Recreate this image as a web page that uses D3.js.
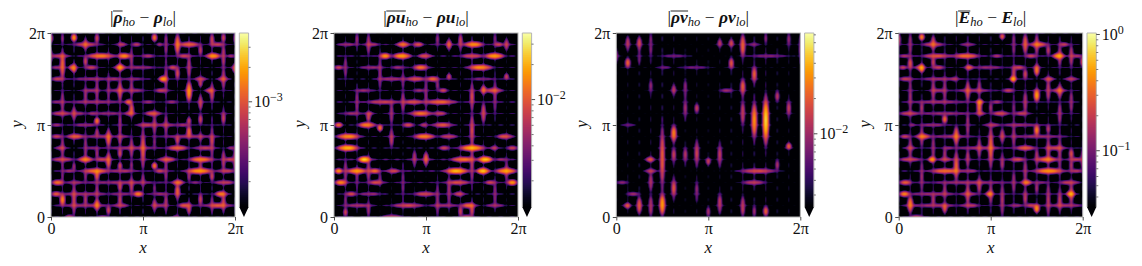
<!DOCTYPE html>
<html lang="en">
<head>
<meta charset="utf-8">
<title>Filtered high order vs low order difference</title>
<script src="https://d3js.org/d3.v7.min.js"></script>
<style>
  html, body { margin: 0; padding: 0; background: #fff; }
  svg { display: block; }
  text { font-family: "Liberation Serif", "DejaVu Serif", serif; fill: #111; }
  .math { font-style: italic; }
  .field { filter: blur(0.45px); }
</style>
</head>
<body>
<div id="chart"></div>
<script>
// Jumps read off the picture along the 16 x 16 element grid.
// Each entry: [grid line, from, to, peak], lengths in element widths, peak in units of the panel.
var rhoH = [
  [15,1.9,4.2,7],[15,5.7,6.55,7],[15,7,7.85,6],[15,9.2,9.7,4],[15,11,13,12],[15,13.9,15.1,7],
  [14,0,1.5,6],[14,3,5.7,16],[14,5.7,7,18],[14,7.85,9,5],[14,11,12.2,7],[14,13.4,14.8,20],[14,15.4,16,4],
  [13,0,0.9,4],[13,1.5,2,7],[13,2.9,4.1,7],[13,5.5,6.5,14],[13,6.5,9,4],[13,10.2,11,8],
  [12,0,1.2,7],[12,2,5,4],[12,5,6.1,4],[12,6.4,8.1,3],[12,9.3,10.2,20],[12,12.5,13.5,8],[12,14.5,15.4,7],
  [11,2.9,4.1,4],[11,5,7,4],[11,7,8.1,4],[11,9,10.2,7],[11,13.4,14.2,8],
  [10,0,0.9,3],[10,1.5,6,4],[10,6.4,7.1,12],[10,7.9,9,4],[10,10,11,4],
  [9,0,1.8,7],[9,2,3,4],[9,3.2,4.1,4],[9,4,6,4],[9,6.4,7.3,7],[9,8.1,9.6,10],
  [8,0,1,4],[8,2,4,4],[8,7.5,9,7],[8,9,11,4],[8,11,12,4],
  [7,0,1,7],[7,1.3,2.9,12],[7,3,5.5,4],[7,5.8,6.7,3],[7,10,14,4],
  [6,0.4,1.3,5],[6,3.2,4.1,3],[6,5,9,4],[6,10,12,12],[6,12.5,14.2,7],[6,15.4,16,4],
  [5,0,2,7],[5,2.3,3.7,16],[5,3.8,5,7],[5,9.3,10.9,10],[5,11.9,14.2,16],[5,15.1,16,7],
  [4,1.2,2,4],[4,2.6,5.2,14],[4,5.2,7.3,5],[4,9,9.9,7],[4,11.6,14.2,20],[4,14.5,16,7],
  [3,0,1.2,14],[3,1.5,2.6,4],[3,3,9,4],[3,10.5,11.6,14],[3,12.2,13,3],[3,14.2,16,7],
  [2,0,0.9,10],[2,1,5,4],[2,5.5,7,3],[2,7.1,8.1,16],[2,8.7,10.2,4],[2,14.2,15.4,16],
  [1,1,5,4],[1,5.5,6.7,6],[1,9,10,4],[1,11,12.2,10],[1,13,16,4],[1,13.9,15.1,7],
  [0,1.2,2,7],[0,4,5,4],[0,10.6,11.2,5]
];
var rhoV = [
  [0,15.1,16,7],[0,13.5,14.5,4],
  [1,11.9,14.5,12],[1,15.1,16,3],[1,9,11,4],[1,5,7,4],[1,3.2,4.7,3],[1,0.9,2.1,16],
  [2,15.2,16,18],[2,12.5,13.4,16],[2,8.4,9.6,7],[2,0.2,2.9,7],[2,4,4.7,4],
  [3,14.5,15.5,7],[3,13.1,14,7],[3,9.9,11.3,4],[3,5,7,4],[3,3.1,4,3],[3,1,2,5],
  [4,15.1,16,7],[4,10,12,4],[4,8,8.7,14],[4,7,7.7,5],[4,5.1,6,4],[4,3.1,4.2,10],[4,1.5,3,4],[4,0.5,1.6,14],
  [5,10.2,12,3],[5,6,7.7,12],[5,4.1,5.7,12],[5,0.2,1,7],
  [6,12.6,13.4,7],[6,10,11.9,8],[6,7,9,4],[6,6.3,7.1,4],[6,5.1,6,7],[6,4.1,4.8,7],[6,2.2,3.1,7],[6,1,2,6],
  [7,13,14.5,4],[7,10.5,12,4],[7,8.7,10,10],[7,5,7,5],[7,4.1,4.8,3],[7,2,3.5,6],
  [8,4.1,7.7,10],[8,2.6,3.7,4],
  [9,15.2,16,14],[9,7,9,5],[9,6,6.9,3],[9,4.1,4.8,14],[9,2.2,2.8,3],[9,0.5,1.6,7],
  [10,14,16,4],[10,11,13.4,4],[10,7,9,4],[10,3,5,4],[10,0.5,2,5],
  [11,14,16,14],[11,11.9,13.1,8],[11,6.3,7.1,7],[11,1.5,2.9,12],
  [12,12,14,6],[12,9.9,11.9,20],[12,8,8.7,7],[12,6.8,8,12],[12,3.1,4,4],[12,0.2,1.3,7],
  [13,14,15,6],[13,11.3,11.9,6],[13,9.3,10.6,8],[13,8,9,7],[13,6.6,7.3,4],[13,4.1,4.8,4],[13,1,2.1,7],
  [14,14.8,16,7],[14,9.9,11.6,7],[14,6.3,7.1,4],[14,5,8,4],[14,3.1,4,7],[14,0.5,1.8,3],
  [15,15.2,16,7],[15,13,15,6],[15,11,13,5],[15,8,9.3,7],[15,4.1,5.8,6],[15,0.5,2,7],
  [16,12.5,13.4,12],[16,15.1,16,4],[16,4,6,6]
];
var ruH = [
  [15,0.5,1.7,4],[15,2.8,3.9,4],[15,5.4,6.6,14],[15,6.8,7.8,9],[15,11.2,13.1,18],[15,13.9,14.7,7],
  [14,3.9,5,18],[14,5,6.8,20],[14,7.3,8.5,9],[14,11,13,8],[14,13,14.9,20],
  [13,0,0.8,7],[13,2.4,4,4],[13,5,6.2,4],[13,6.8,8.3,14],[13,11.5,13.9,18],
  [12,4,6,5],[12,6.2,8,9],[12,8,9.2,12],[12,12.1,13.6,3],
  [11,2,3.3,4],[11,6.9,7.8,4],[11,9.1,9.9,7],[11,13,14.7,9],
  [10,2.8,5.7,7],[10,6,7.8,9],[10,7.8,10.7,12],
  [9,0.8,2.3,4],[9,2.7,3.4,7],[9,6.5,8.6,14],[9,8.6,9.8,7],
  [8,0,0.8,12],[8,2,3.7,16],[8,5.9,7,8],[8,7.5,8.2,6],[8,8.5,10.4,10],
  [7,0.1,2.4,18],[7,6.8,8.9,16],[7,9.2,10.7,7],[7,14.1,15.6,10],
  [6,0.1,2.3,24],[6,9.1,10.1,7],[6,10.7,13.3,22],[6,13.6,14.3,7],[6,15,16,7],
  [5,2,3.3,28],[5,10.1,12.4,14],[5,12.4,13.9,26],[5,14.1,15,3],
  [4,0,0.8,16],[4,1,3,18],[4,3,4.1,12],[4,4.6,5.7,8],[4,9.5,11.8,24],[4,12.3,13.6,26],[4,13.9,16,18],
  [3,0,1.2,16],[3,3,4.3,8],[3,9.8,11.8,9],[3,13.1,14.1,7],[3,15,16,18],
  [2,1,2,8],[2,2.3,4,4],[2,6.9,8.9,8],[2,10.4,11.4,8],
  [1,1.1,3.1,5],[1,5,7.8,8],[1,8.6,10.7,4],[1,11,12.4,12],[1,13.3,14.7,4],
  [0,4.1,6,7],[0,11,12.1,7]
];
var ruV = [
  [1,12.1,13.9,4],[1,3,5,4],[1,0,0.75,7],[1,0.75,2,3],
  [2,14.8,16,4],[2,9,11,4],[2,2.6,4.1,3],
  [3,14.1,16,5],[3,8.3,9,7],[3,3,5,5],[3,0,1.3,4],
  [4,11,14,4],[4,7.4,8.1,14],[4,2.9,3.8,3],
  [5,8,10,5],[5,6,7.7,7],
  [6,11.3,12.5,3],[6,9,11,5],[6,1.8,4.1,3],
  [7,4.4,5.8,6],
  [8,9.5,12,4],[8,4.4,5.7,12],
  [9,14.8,16,4],[9,11,11.9,4],[9,0,3,4],
  [10,14.5,15.5,12],[10,11.9,12.5,8],[10,1,3.5,5],
  [11,14.5,16,7],[11,0,1,7],
  [12,9.3,11.6,8],[12,6.1,9,8],[12,3,6,5],[12,0,1.2,7],
  [13,10.6,11.5,12],[13,8.1,10,8],
  [14,15,16,3],[14,9,12,4],[14,1,3,4],
  [15,14.5,15.5,8],[15,11.9,12.5,8],[15,3,5,4]
];
var rvH = [
  [15,11.5,12.4,8],
  [14,4.1,6,6],[14,11.7,14.7,7],
  [13,3.7,4.6,6],[13,5.8,7.8,6],
  [11,9,10.2,10],
  [8,0.6,1.5,6],
  [5,2.5,3.4,22],
  [4,2.5,3.5,14],[4,10.6,14,18],
  [3,10.9,13,14],[3,0,1,8],
  [2,0.9,2,10],
  [1,0.6,1.3,14]
];
var rvV = [
  [0,13.5,14.5,10],
  [1,14.5,15.7,14],[1,12.9,13.9,24],[1,0.75,1.2,8],
  [2,14.5,15.7,18],[2,13.4,14.4,6],[2,0.2,1.8,22],
  [3,13.9,16,7],[3,10.8,11.9,8],[3,2.3,3.8,12],[3,0,1.9,12],
  [4,2.3,8,22],[4,0,2.2,40],
  [5,10.6,11.5,14],[5,6.4,8.1,32],[5,4.7,6.1,14],[5,1.6,3.4,20],
  [6,10.5,11.9,8],[6,8.6,10.3,10],[6,4.7,6.1,12],
  [7,9,9.9,14],[7,4.4,6.7,16],[7,1.5,3.1,8],
  [8,4.5,5.2,16],[8,0,0.9,10],
  [9,14.7,15.5,14],[9,4.4,6.4,14],[9,0.3,2.1,14],
  [10,14.7,15.5,18],[10,12.8,13.9,20],
  [11,13.8,16,24],[11,10.5,12.1,22],[11,7.9,10.2,14],[11,0,1.8,14],
  [12,11.6,13.2,22],[12,6.6,10.2,36],[12,0,1,8],
  [13,15.1,16,6],[13,6,10.8,60],[13,0,1,22],
  [14,10,11,12],[14,4.1,5,10],
  [15,14.8,16,8],[15,8.7,10.2,14],[15,5.8,6.5,24],
  [16,13.7,15.7,7]
];
var enH = [
  [15,2,4,18],[15,5.5,6.5,12],[15,11.3,13,30],[15,13.9,14.8,18],
  [14,0,1,12],[14,2,4.6,26],[14,4.6,7.1,36],[14,8.1,9,12],[14,11,12,18],[14,13.3,14.5,50],[14,15,16,12],
  [13,0,0.7,18],[13,1.4,2.2,18],[13,2.9,4,18],[13,5.7,6.5,30],[13,6.5,9,11],[13,9.9,11,20],
  [12,0,1.2,18],[12,2,5,11],[12,4.6,5.2,12],[12,9.6,10.3,55],[12,12.6,13.5,22],[12,14.5,15.5,18],
  [11,2.9,4,12],[11,5,8,11],[11,9,10.1,18],[11,13.3,14.5,18],
  [10,1.4,5.8,11],[10,6.7,7.4,36],[10,8.1,9,12],
  [9,0,1.7,18],[9,2,6,11],[9,6.7,7.5,18],[9,8.1,9.6,24],[9,10.1,11.3,18],
  [8,0.9,1.4,11],[8,2,4,11],[8,7.5,8.7,14],[8,9,12,11],
  [7,0.1,1,18],[7,1.4,2.8,34],[7,3,6,11],[7,10,14,11],
  [6,0.6,1.4,12],[6,3.9,4.6,8],[6,5,9,11],[6,10.1,11.9,30],[6,12.8,14.5,20],
  [5,0,1.9,18],[5,2.5,3.3,50],[5,3.5,4.6,18],[5,9.6,11,22],[5,11.9,13.9,36],[5,14.8,16,16],
  [4,2.6,5.5,36],[4,5.5,6.8,12],[4,11.6,14.5,50],[4,14.8,16,14],
  [3,0,1.2,30],[3,3,9,11],[3,10.6,11.6,40],[3,11.7,12.8,8],[3,13.9,15.7,18],
  [2,0,1,42],[2,1,5,11],[2,14.5,15.4,50],[2,5.5,6.8,12],[2,7.5,8.3,36],
  [1,1,5,12],[1,5.5,7,16],[1,9.6,10.7,12],[1,11,12,18],[1,13,16,12],
  [0,0.9,2.2,18]
];
var enV = [
  [0,14.8,16,18],
  [1,14,16,12],[1,12.7,13.9,26],[1,9,12,12],[1,5,7,12],[1,0.3,1.9,42],
  [2,15.3,16,42],[2,12.5,13.4,50],[2,9,10,14],[2,6,8,12],[2,2.3,4.8,12],
  [3,14.4,15.8,22],[3,13,13.9,18],[3,10,12,14],[3,5,7,12],[3,1,2,14],
  [4,10,12,12],[4,8.1,8.9,34],[4,5,6,12],[4,1.5,3,12],[4,0.3,1.3,26],
  [5,6.1,8,34],[5,3.1,5.8,32],
  [6,10,11.9,22],[6,7,9,12],[6,4.4,5.8,16],[6,1,3,18],
  [7,10.5,12,12],[7,8.9,10.2,34],[7,5,7,14],[7,2,3.5,18],
  [8,9,10,12],[8,4.1,8,32],[8,1,3,14],
  [9,15.4,16,30],[9,6.4,7.7,22],[9,4,5.5,16],[9,0,3,16],
  [10,14,16,10],[10,11.9,13.2,18],[10,8.7,10.2,8],[10,6,8,12],[10,2,4,12],
  [11,14.1,16,30],[11,11.9,12.9,20],[11,9,11,16],[11,3,5,14],[11,1,2.5,18],
  [12,14,16,16],[12,12.2,13.4,42],[12,9.9,11.3,55],[12,7,8.1,42],[12,4.5,6,14],[12,2,3,12],[12,0.3,1.2,50],
  [13,14,15,16],[13,10,12,18],[13,7.3,8.1,16],[13,4.5,7,16],[13,0,3,16],
  [14,13,15,14],[14,10.3,11.6,24],[14,8,10,14],[14,4,7,12],[14,0.5,2.5,18],
  [15,13,15,16],[15,9,11,12],[15,5,6,24],[15,4,5,14],[15,1,3,18],
  [16,13,14,26],[16,4,6,16]
];

// faint level seen along each grid line, line 0 to line 16
var rhoLineH = [2.2,2.2,2.2,2.2,2.6,2.6,2.2,2.2,2.2,2.2,2.2,2.2,2.2,2.2,2.6,2.2,2.2];
var rhoLineV = [2.2,2.2,2.2,2.2,2.2,2.2,2.6,2.2,2.2,1.8,2.2,2.2,2.2,2.2,2.2,2.2,2.2];
var ruLineH = [2.2,2.2,2.2,2.6,3,3,2.2,2.2,2.2,2.2,2.6,2.2,2.2,2.2,2.6,2.6,1.8];
var ruLineV = [1.5,1.8,1.8,1.8,1.5,1.5,1.8,1.5,1.5,1.5,1.5,1.8,2.2,1.8,1.6,1.5,1.5];
var rvLineH = [2.6,2.6,2.6,2.6,3,2.6,2.6,2.6,2.6,2.6,2.6,2.6,2.6,3,3,2.6,2.6];
var rvLineV = [3.4,3.4,3.8,3.8,4.2,3.8,3.4,3.4,3.4,3.4,3.8,4.2,4.2,4.2,3.8,3.4,3];
var enLineH = [6,6,6,6,7,7,6,6,6,6,6,6,6,6,7,6,6];
var enLineV = [6,6,6,6,6,6,7,6,6,5,6,6,6,6,6,6,6];

var tickNames = ["0", "π", "2π"];
var gridTicks = [0, 8, 16];

var width = 1142, height = 266;
var plotSize = 184, plotTop = 33;
var barGap = 4.3, barWidth = 9.3, triHeight = 10;
var edge = "#b4b4b4";
var gain = 0.78;

var svg = d3.select("#chart").append("svg")
    .attr("width", width)
    .attr("height", height);

// a title is a list of pieces: [text, kind, overlined]
var panels = [
  {left: 51, h: rhoH, v: rhoV, lineH: rhoLineH, lineV: rhoLineV, unit: 1e-4, dom: [1.2e-4, 4e-3],
   majors: [1e-3], minors: [2e-4,3e-4,4e-4,5e-4,6e-4,7e-4,8e-4,9e-4,2e-3,3e-3],
   title: [["|",""],["ρ","b",1],["ho","s"],[" − ",""],["ρ","b"],["lo","s"],["|",""]]},
  {left: 334, h: ruH, v: ruV, lineH: ruLineH, lineV: ruLineV, unit: 1e-3, dom: [1.19e-3, 3.74e-2],
   majors: [1e-2], minors: [2e-3,3e-3,4e-3,5e-3,6e-3,7e-3,8e-3,9e-3,2e-2,3e-2],
   title: [["|",""],["ρu","b",1],["ho","s"],[" − ",""],["ρu","b"],["lo","s"],["|",""]]},
  {left: 616.3, h: rvH, v: rvV, lineH: rvLineH, lineV: rvLineV, unit: 1e-3, dom: [2.37e-3, 7.26e-2],
   majors: [1e-2], minors: [3e-3,4e-3,5e-3,6e-3,7e-3,8e-3,9e-3,2e-2,3e-2,4e-2,5e-2,6e-2,7e-2],
   title: [["|",""],["ρv","b",1],["ho","s"],[" − ",""],["ρv","b"],["lo","s"],["|",""]]},
  {left: 898.7, h: enH, v: enV, lineH: enLineH, lineV: enLineV, unit: 1e-2, dom: [3.28e-2, 1.03],
   majors: [1e-1, 1], minors: [4e-2,5e-2,6e-2,7e-2,8e-2,9e-2,.2,.3,.4,.5,.6,.7,.8,.9],
   title: [["|",""],["E","b",1],["ho","s"],[" − ",""],["E","b"],["lo","s"],["|",""]]}
];

// log-parabola bump around one grid edge, so iso-lines come out as the lens shapes
function addStroke(field, n, xg, yg, s, horizontal, peak, w, fall) {
  var mid = (s[1] + s[2]) / 2, half = (s[2] - s[1]) / 2;
  for (var j = 0; j < n; j++) {
    for (var i = 0; i < n; i++) {
      var along = horizontal ? xg(i + 0.5) : yg(j + 0.5);
      var across = horizontal ? yg(j + 0.5) : xg(i + 0.5);
      var d = Math.abs(across - s[0]);
      if (d > 0.8) continue;
      var t = Math.abs(along - mid) / half;
      if (t > 1.6) continue;
      field[j * n + i] += peak * Math.exp(-fall * Math.pow(t, 2.2) - (d * d) / (w * w));
    }
  }
}

panels.forEach(function(p) {
  var g = svg.append("g").attr("transform", "translate(" + p.left + "," + plotTop + ")");

  var x = d3.scaleLinear().domain([0, 16]).range([0, plotSize]);
  var y = d3.scaleLinear().domain([0, 16]).range([plotSize, 0]);
  var color = d3.scaleSequentialLog(d3.interpolateInferno).domain(p.dom).clamp(true);
  var vmin = p.dom[0];

  var n = plotSize;
  var field = new Float64Array(n * n);
  function main(horizontal) {
    return function(s) {
      var peak = s[3] * p.unit * gain;
      addStroke(field, n, x.invert, y.invert, s, horizontal, peak, 0.22, Math.log(Math.max(peak / vmin, 1.3)));
    };
  }
  p.h.forEach(main(true));
  p.v.forEach(main(false));
  // the faint lattice, one thin lens per element edge
  function faint(horizontal) {
    return function(b, line) {
      d3.range(16).forEach(function(c) {
        addStroke(field, n, x.invert, y.invert, [line, c, c + 1, b], horizontal, b * p.unit, 0.11, 1.6);
      });
    };
  }
  p.lineH.forEach(faint(true));
  p.lineV.forEach(faint(false));

  var canvas = document.createElement("canvas");
  canvas.width = n; canvas.height = n;
  var ctx = canvas.getContext("2d");
  var img = ctx.createImageData(n, n);
  for (var k = 0; k < n * n; k++) {
    var c = d3.rgb(color(Math.max(field[k], vmin)));
    img.data[k * 4] = c.r; img.data[k * 4 + 1] = c.g; img.data[k * 4 + 2] = c.b; img.data[k * 4 + 3] = 255;
  }
  ctx.putImageData(img, 0, 0);
  g.append("image").attr("class", "field")
    .attr("href", canvas.toDataURL())
    .attr("width", plotSize).attr("height", plotSize);

  g.append("rect").attr("width", plotSize).attr("height", plotSize)
    .attr("fill", "none").attr("stroke", edge).attr("stroke-width", 1);

  // axes
  var ax = g.append("g").attr("transform", "translate(0," + plotSize + ")")
    .call(d3.axisBottom(x).tickValues(gridTicks).tickFormat(function(d, i) { return tickNames[i]; }).tickSize(3.5).tickPadding(2.5));
  var ay = g.append("g")
    .call(d3.axisLeft(y).tickValues(gridTicks).tickFormat(function(d, i) { return tickNames[i]; }).tickSize(3.5).tickPadding(2.5));
  [ax, ay].forEach(function(a) {
    a.select(".domain").remove();
    a.selectAll("line").attr("stroke", "#222").attr("stroke-width", 0.8);
    a.selectAll("text").attr("font-size", 16).attr("fill", "#111")
      .style("font-family", '"Liberation Serif", serif');
  });

  g.append("text").attr("class", "math").attr("x", plotSize / 2).attr("y", plotSize + 36)
    .attr("text-anchor", "middle").attr("font-size", 17).text("x");
  g.append("text").attr("class", "math")
    .attr("transform", "translate(-29," + (plotSize / 2 - 1) + ") rotate(-90)")
    .attr("text-anchor", "middle").attr("font-size", 17).text("y");

  // title
  var title = g.append("text").attr("x", plotSize / 2).attr("y", -10.5)
    .attr("text-anchor", "middle").attr("font-size", 17.5);
  var wasSub = false;
  var over = [];
  p.title.forEach(function(part) {
    var sp = title.append("tspan").text(part[0]).style("white-space", "pre").attr("xml:space", "preserve");
    if (part[1] === "b") sp.attr("font-weight", "bold").attr("font-style", "italic");
    if (part[1] === "s") sp.attr("font-style", "italic").attr("font-size", 12.5).attr("dy", wasSub ? 0 : 3);
    else if (wasSub) sp.attr("dy", -3);
    wasSub = part[1] === "s";
    if (part[2]) over.push(sp);
  });
  over.forEach(function(sp) {
    var b = sp.node().getBBox();
    g.append("line").attr("x1", b.x + 0.5).attr("x2", b.x + b.width)
      .attr("y1", -22).attr("y2", -22).attr("stroke", "#111").attr("stroke-width", 0.9);
  });

  // colorbar
  var bar = g.append("g").attr("transform", "translate(" + (plotSize + barGap) + ",0)");
  var barH = plotSize - triHeight;
  var cy = d3.scaleLog().domain(p.dom).range([barH, 0]);
  bar.selectAll("rect.step").data(d3.range(0, barH, 1)).enter().append("rect")
    .attr("class", "step")
    .attr("x", 0).attr("y", function(d) { return d; })
    .attr("width", barWidth).attr("height", 1.2)
    .attr("fill", function(d) { return color(cy.invert(d + 0.5)); });
  bar.append("path")
    .attr("d", "M0," + barH + "H" + barWidth + "L" + (barWidth / 2) + "," + plotSize + "Z")
    .attr("fill", "#000004");
  bar.append("path")
    .attr("d", "M0," + barH + "V0H" + barWidth + "V" + barH)
    .attr("fill", "none").attr("stroke", edge).attr("stroke-width", 1);

  bar.selectAll("line.minor").data(p.minors).enter().append("line")
    .attr("x1", barWidth).attr("x2", barWidth + 2)
    .attr("y1", cy).attr("y2", cy).attr("stroke", "#222").attr("stroke-width", 0.6);
  bar.selectAll("line.major").data(p.majors).enter().append("line")
    .attr("x1", barWidth).attr("x2", barWidth + 3.5)
    .attr("y1", cy).attr("y2", cy).attr("stroke", "#222").attr("stroke-width", 0.8);

  var lab = bar.selectAll("text.mj").data(p.majors).enter().append("text")
    .attr("x", barWidth + 5.5).attr("y", function(d) { return cy(d) + 5.5; })
    .attr("font-size", 16);
  lab.append("tspan").text("10");
  lab.append("tspan").attr("dy", -6).attr("font-size", 12)
    .text(function(d) { var e = Math.round(Math.log10(d)); return String(e).replace("-", "−"); });
});
</script>
</body>
</html>
